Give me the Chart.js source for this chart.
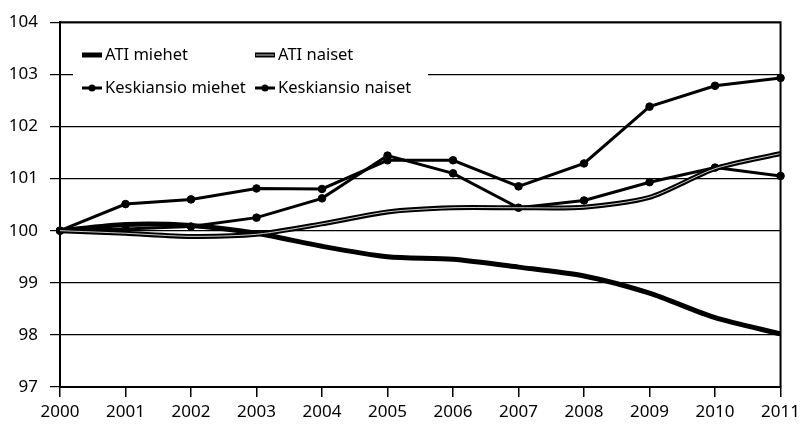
<!DOCTYPE html>
<html lang="fi">
<head>
    <meta charset="UTF-8">
    <title>ATI ja keskiansio</title>
    <style>
        body {
            margin: 0;
            background-color: #fff;
        }
        #wrap {
            width: 805px;
            height: 426px;
        }
    </style>
    <script src="https://cdn.jsdelivr.net/npm/chart.js"></script>
</head>
<body>
    <div id="wrap"><canvas id="kaavio"></canvas></div>

    <script>
        const vuodet = ["2000", "2001", "2002", "2003", "2004", "2005", "2006", "2007", "2008", "2009", "2010", "2011"];

        const atiMiehet = [100, 100.12, 100.1, 99.95, 99.7, 99.5, 99.45, 99.3, 99.13, 98.8, 98.33, 98.02];
        const atiNaiset = [100, 99.95, 99.89, 99.93, 100.13, 100.36, 100.44, 100.44, 100.45, 100.64, 101.19, 101.48];
        const keskiansioMiehet = [100, 100.51, 100.6, 100.81, 100.8, 101.35, 101.35, 100.85, 101.29, 102.38, 102.78, 102.93];
        const keskiansioNaiset = [100, 100.03, 100.08, 100.25, 100.62, 101.44, 101.1, 100.44, 100.58, 100.93, 101.21, 101.05];

        const yTicks = [97, 98, 99, 100, 101, 102, 103, 104];

        const fontti = "'Noto Sans', sans-serif";

        // kehys kuvaajan ympärille + selite valkoisella pohjalla
        const kehysJaSelite = {
            id: 'kehysJaSelite',
            afterDraw(chart) {
                const ctx = chart.ctx;
                const a = chart.chartArea;
                ctx.save();
                ctx.strokeStyle = '#000';
                ctx.lineWidth = 2;
                ctx.beginPath();
                ctx.moveTo(a.left, a.top);
                ctx.lineTo(a.right, a.top);
                ctx.lineTo(a.right, a.bottom);
                ctx.stroke();

                // selite
                ctx.fillStyle = '#fff';
                ctx.fillRect(73, 32, 355, 72);

                const rivit = [
                    { x: 82, y: 55, nimi: 'ATI miehet', tyyli: 'paksu' },
                    { x: 255, y: 55, nimi: 'ATI naiset', tyyli: 'raita' },
                    { x: 82, y: 88, nimi: 'Keskiansio miehet', tyyli: 'piste' },
                    { x: 255, y: 88, nimi: 'Keskiansio naiset', tyyli: 'piste' }
                ];
                rivit.forEach(r => {
                    ctx.strokeStyle = '#000';
                    ctx.lineCap = 'butt';
                    ctx.beginPath();
                    ctx.moveTo(r.x, r.y);
                    ctx.lineTo(r.x + 20, r.y);
                    if (r.tyyli === 'paksu') {
                        ctx.lineWidth = 5;
                        ctx.stroke();
                    } else if (r.tyyli === 'raita') {
                        ctx.lineWidth = 5;
                        ctx.stroke();
                        ctx.strokeStyle = '#fff';
                        ctx.lineWidth = 0.8;
                        ctx.beginPath();
                        ctx.moveTo(r.x + 1, r.y);
                        ctx.lineTo(r.x + 19, r.y);
                        ctx.stroke();
                    } else {
                        ctx.lineWidth = 3;
                        ctx.stroke();
                        ctx.fillStyle = '#000';
                        ctx.beginPath();
                        ctx.arc(r.x + 10, r.y, 3.5, 0, Math.PI * 2);
                        ctx.fill();
                    }
                    ctx.fillStyle = '#000';
                    ctx.font = "16.5px " + fontti;
                    ctx.textAlign = 'left';
                    ctx.textBaseline = 'middle';
                    ctx.fillText(r.nimi, r.x + 23, r.y);
                });
                ctx.restore();
            }
        };

        const ctx = document.getElementById('kaavio').getContext('2d');

        new Chart(ctx, {
            type: 'line',
            data: {
                labels: vuodet,
                datasets: [
                    {
                        label: 'ATI naiset (raita)',
                        data: atiNaiset,
                        borderColor: '#fff',
                        borderWidth: 0.8,
                        pointRadius: 0,
                        tension: 0.25,
                        order: 0
                    },
                    {
                        label: 'ATI naiset',
                        data: atiNaiset,
                        borderColor: '#000',
                        borderWidth: 5,
                        pointRadius: 0,
                        tension: 0.25,
                        order: 1
                    },
                    {
                        label: 'ATI miehet',
                        data: atiMiehet,
                        borderColor: '#000',
                        borderWidth: 5,
                        pointRadius: 0,
                        tension: 0.25,
                        order: 2
                    },
                    {
                        label: 'Keskiansio miehet',
                        data: keskiansioMiehet,
                        borderColor: '#000',
                        backgroundColor: '#000',
                        borderWidth: 3,
                        pointRadius: 3.8,
                        pointBorderWidth: 1,
                        order: 3
                    },
                    {
                        label: 'Keskiansio naiset',
                        data: keskiansioNaiset,
                        borderColor: '#000',
                        backgroundColor: '#000',
                        borderWidth: 3,
                        pointRadius: 3.8,
                        pointBorderWidth: 1,
                        order: 4
                    }
                ]
            },
            options: {
                responsive: true,
                maintainAspectRatio: false,
                animation: false,
                layout: {
                    padding: { top: 14, right: 20, left: 0, bottom: 0 }
                },
                plugins: {
                    legend: { display: false },
                    tooltip: { enabled: false }
                },
                scales: {
                    x: {
                        afterFit: s => { s.height = 39; },
                        grid: {
                            drawOnChartArea: false,
                            drawTicks: true,
                            tickLength: 10,
                            color: '#000',
                            lineWidth: 1.5
                        },
                        border: { color: '#000', width: 2 },
                        ticks: {
                            color: '#000',
                            padding: 5,
                            maxRotation: 0,
                            autoSkip: false,
                            font: { family: fontti, size: 17 }
                        }
                    },
                    y: {
                        min: 97,
                        max: 104,
                        afterFit: s => { s.width = 60; },
                        afterBuildTicks: s => { s.ticks = yTicks.map(v => ({ value: v })); },
                        grid: {
                            color: '#000',
                            lineWidth: 1.2,
                            tickLength: 10
                        },
                        border: { color: '#000', width: 2 },
                        ticks: {
                            color: '#000',
                            padding: 12,
                            font: { family: fontti, size: 17 }
                        }
                    }
                }
            },
            plugins: [kehysJaSelite]
        });
    </script>
</body>
</html>
